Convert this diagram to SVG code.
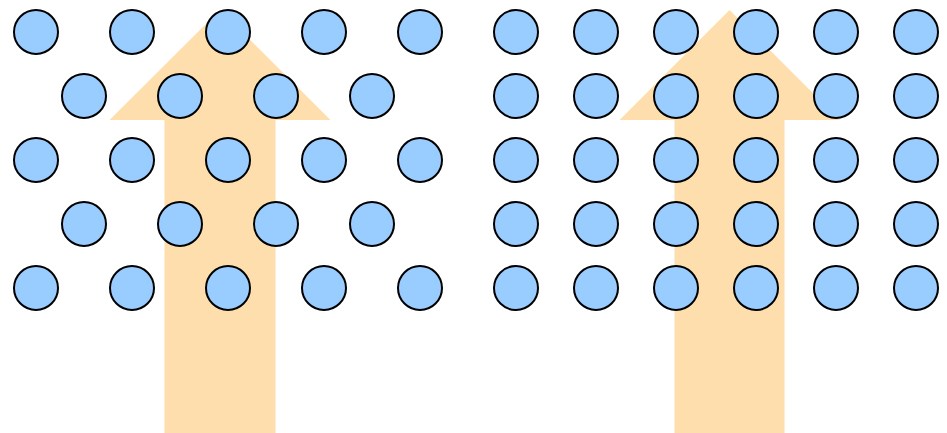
<svg xmlns="http://www.w3.org/2000/svg" width="947" height="433" viewBox="0 0 947 433">
<style>
.arrow{fill:#FFDEAD;stroke:none}
.c{fill:#99CCFF;stroke:#000;stroke-width:2}
</style>
<rect width="947" height="433" fill="#fff"/>
<g id="arrow-left"><polygon class="arrow" points="220,10 330.5,120 275.5,120 275.5,433 164.5,433 164.5,120 109.5,120"/></g>
<g id="arrow-right"><polygon class="arrow" points="729.5,10 840,120 784.5,120 784.5,433 674.5,433 674.5,120 619.5,120"/></g>
<g id="left-lattice">
<g id="L1"><circle class="c" cx="36" cy="32" r="22"/><circle class="c" cx="132" cy="32" r="22"/><circle class="c" cx="228" cy="32" r="22"/><circle class="c" cx="324" cy="32" r="22"/><circle class="c" cx="420" cy="32" r="22"/></g>
<g id="L2"><circle class="c" cx="84" cy="96" r="22"/><circle class="c" cx="180" cy="96" r="22"/><circle class="c" cx="276" cy="96" r="22"/><circle class="c" cx="372" cy="96" r="22"/></g>
<g id="L3"><circle class="c" cx="36" cy="160" r="22"/><circle class="c" cx="132" cy="160" r="22"/><circle class="c" cx="228" cy="160" r="22"/><circle class="c" cx="324" cy="160" r="22"/><circle class="c" cx="420" cy="160" r="22"/></g>
<g id="L4"><circle class="c" cx="84" cy="224" r="22"/><circle class="c" cx="180" cy="224" r="22"/><circle class="c" cx="276" cy="224" r="22"/><circle class="c" cx="372" cy="224" r="22"/></g>
<g id="L5"><circle class="c" cx="36" cy="288" r="22"/><circle class="c" cx="132" cy="288" r="22"/><circle class="c" cx="228" cy="288" r="22"/><circle class="c" cx="324" cy="288" r="22"/><circle class="c" cx="420" cy="288" r="22"/></g>
</g>
<g id="right-lattice">
<g id="R1"><circle class="c" cx="516" cy="32" r="22"/><circle class="c" cx="596" cy="32" r="22"/><circle class="c" cx="676" cy="32" r="22"/><circle class="c" cx="756" cy="32" r="22"/><circle class="c" cx="836" cy="32" r="22"/><circle class="c" cx="916" cy="32" r="22"/></g>
<g id="R2"><circle class="c" cx="516" cy="96" r="22"/><circle class="c" cx="596" cy="96" r="22"/><circle class="c" cx="676" cy="96" r="22"/><circle class="c" cx="756" cy="96" r="22"/><circle class="c" cx="836" cy="96" r="22"/><circle class="c" cx="916" cy="96" r="22"/></g>
<g id="R3"><circle class="c" cx="516" cy="160" r="22"/><circle class="c" cx="596" cy="160" r="22"/><circle class="c" cx="676" cy="160" r="22"/><circle class="c" cx="756" cy="160" r="22"/><circle class="c" cx="836" cy="160" r="22"/><circle class="c" cx="916" cy="160" r="22"/></g>
<g id="R4"><circle class="c" cx="516" cy="224" r="22"/><circle class="c" cx="596" cy="224" r="22"/><circle class="c" cx="676" cy="224" r="22"/><circle class="c" cx="756" cy="224" r="22"/><circle class="c" cx="836" cy="224" r="22"/><circle class="c" cx="916" cy="224" r="22"/></g>
<g id="R5"><circle class="c" cx="516" cy="288" r="22"/><circle class="c" cx="596" cy="288" r="22"/><circle class="c" cx="676" cy="288" r="22"/><circle class="c" cx="756" cy="288" r="22"/><circle class="c" cx="836" cy="288" r="22"/><circle class="c" cx="916" cy="288" r="22"/></g>
</g>
</svg>
